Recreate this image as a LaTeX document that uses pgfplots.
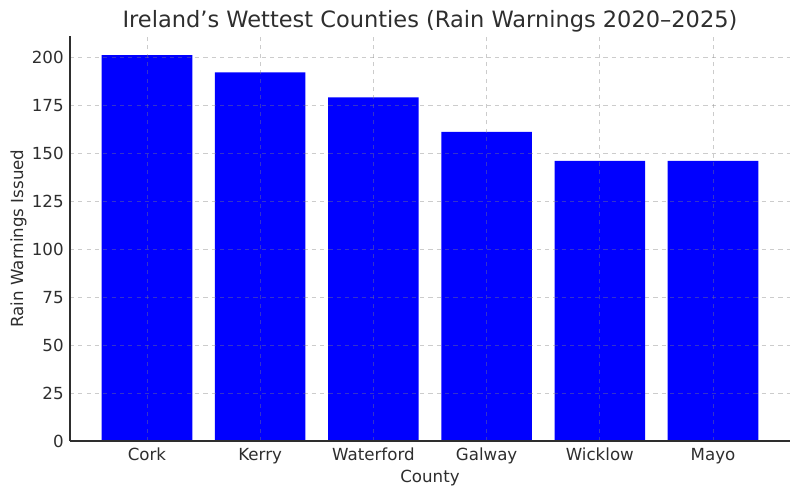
\documentclass[border=0pt]{standalone}
\usepackage{pgfplots}
\pgfplotsset{compat=1.18}
\usepackage{fontspec}
\setmainfont{DejaVu Sans}
\definecolor{txt}{HTML}{2E2E2E}
\definecolor{barblue}{HTML}{0000FF}
\begin{document}
\begin{tikzpicture}
\path[use as bounding box] (-50.4pt,-39.6pt) rectangle (525.6pt,317.52pt);
\begin{axis}[
  at={(0,0)}, anchor=south west,
  scale only axis, width=518.4pt, height=291.6pt,
  xmin=-0.68, xmax=5.68, ymin=0, ymax=211,
  axis x line*=bottom, axis y line*=left,
  axis line style={-, draw=txt, line width=0.9pt},
  major tick length=0pt,
  xtick={0,1,2,3,4,5},
  xticklabels={Cork,Kerry,Waterford,Galway,Wicklow,Mayo},
  ytick={0,25,50,75,100,125,150,175,200},
  /pgf/number format/assume math mode=true,
  tick label style={font=\fontsize{12}{14}\selectfont, text=txt},
  xticklabel style={yshift=-1.5pt},
  yticklabel style={xshift=-1pt},
  grid=major,
  grid style={dashed, draw=gray, opacity=0.4, line width=0.6pt},
  axis on top,
  clip=false,
]
\addplot[ybar, bar width=0.8, fill=barblue, draw=none] coordinates {
  (0,201) (1,192) (2,179) (3,161) (4,146) (5,146)
};
\node[anchor=base, text=txt, font=\fontsize{16.2}{19}\selectfont] at (rel axis cs:0.5,1) [yshift=5.8pt] {Ireland’s Wettest Counties (Rain Warnings 2020–2025)};
\node[anchor=base, text=txt, font=\fontsize{12}{14}\selectfont] at (rel axis cs:0.5,0) [yshift=-30pt] {County};
\node[anchor=base, rotate=90, text=txt, font=\fontsize{12}{14}\selectfont] at ([xshift=-33.8pt]rel axis cs:0,0.5) {Rain Warnings Issued};
\end{axis}
\end{tikzpicture}
\end{document}
